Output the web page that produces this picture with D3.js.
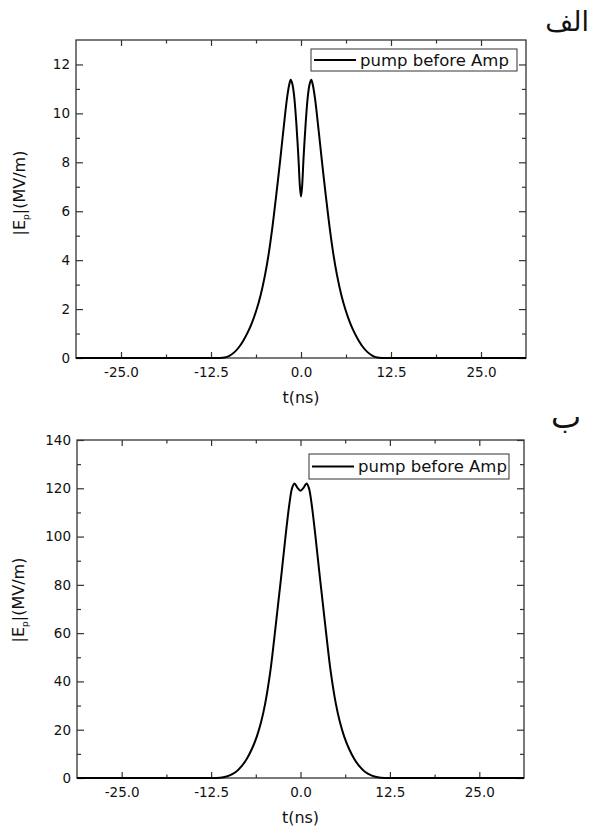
<!DOCTYPE html>
<html>
<head>
<meta charset="utf-8">
<script src="https://cdn.jsdelivr.net/npm/d3@7"></script>
<style>
  body { margin: 0; background: #fff; }
  svg { display: block; }
  text { font-family: "DejaVu Sans", sans-serif; fill: #111; }
</style>
</head>
<body>
<div id="chart"></div>
<script>
// x ticks shared by both panels
const xMajor = [-25, -12.5, 0, 12.5, 25];
const xMinor = [-18.75, -6.25, 6.25, 18.75];

// panel "الف" : pump before amplification (double peak)
const tTop = [-31.25, -14, -11.5, -10.6, -9.9, -9.2, -8.6, -8.0, -7.4, -6.8, -6.2, -5.6, -5.0, -4.5, -3.98, -3.47, -2.92, -2.45, -1.95, -1.65, -1.43, -1.2, -0.95, -0.65, -0.35, -0.15, 0,
              0.15, 0.35, 0.65, 0.95, 1.2, 1.43, 1.65, 1.95, 2.45, 2.92, 3.47, 3.98, 4.5, 5.0, 5.6, 6.2, 6.8, 7.4, 8.0, 8.6, 9.2, 9.9, 10.6, 11.5, 14, 31.25];
const eTop = [0, 0, 0, 0.02, 0.1, 0.25, 0.45, 0.72, 1.05, 1.45, 1.95, 2.58, 3.39, 4.24, 5.33, 6.58, 8.01, 9.3, 10.6, 11.15, 11.37, 11.2, 10.7, 9.6, 8.15, 7.0, 6.6,
              7.0, 8.15, 9.6, 10.7, 11.2, 11.37, 11.15, 10.6, 9.3, 8.01, 6.58, 5.33, 4.24, 3.39, 2.58, 1.95, 1.45, 1.05, 0.72, 0.45, 0.25, 0.1, 0.02, 0, 0, 0];
const yTopMajor = [0, 2, 4, 6, 8, 10, 12];
const yTopMinor = [1, 3, 5, 7, 9, 11];

// panel "ب"
const tBot = [-31.25, -14, -11.8, -10.8, -9.9, -9.0, -8.2, -7.5, -6.8, -6.1, -5.5, -4.94, -4.24, -3.68, -3.12, -2.6, -2.1, -1.54, -1.16, -0.84, -0.45, 0,
              0.45, 0.84, 1.16, 1.54, 2.1, 2.6, 3.12, 3.68, 4.24, 4.94, 5.5, 6.1, 6.8, 7.5, 8.2, 9.0, 9.9, 10.8, 11.8, 14, 31.25];
const eBot = [0, 0, 0, 0.3, 1.1, 2.6, 5.0, 8.0, 12.0, 17.25, 23.25, 30.8, 43.75, 57.5, 72.3, 86.1, 99.9, 113.8, 120.3, 122.0, 120.3, 119.0,
              120.3, 122.0, 120.3, 113.8, 99.9, 86.1, 72.3, 57.5, 43.75, 30.8, 23.25, 17.25, 12.0, 8.0, 5.0, 2.6, 1.1, 0.3, 0, 0, 0];
const yBotMajor = [0, 20, 40, 60, 80, 100, 120, 140];
const yBotMinor = [10, 30, 50, 70, 90, 110, 130];

const legendLabel = "pump before Amp";

const svg = d3.select("#chart").append("svg")
  .attr("width", 593)
  .attr("height", 827);

function panel(p) {
  const x = d3.scaleLinear().domain([-31.25, 31.25]).range([p.left, p.right]);
  const y = d3.scaleLinear().domain(p.yDomain).range([p.bottom, p.top]);
  const g = svg.append("g");

  const style = sel => {
    sel.select(".domain").remove();
    sel.selectAll("line").attr("stroke", "#333").attr("stroke-width", 1.2);
    sel.selectAll("text").attr("font-size", 13.5).attr("fill", "#111")
      .style("font-family", "'DejaVu Sans', sans-serif");
  };

  // bottom + top
  g.append("g").attr("transform", `translate(0,${p.bottom})`)
    .call(d3.axisBottom(x).tickValues(xMajor).tickSize(-6).tickPadding(9).tickFormat(d => d.toFixed(1)))
    .call(style);
  g.append("g").attr("transform", `translate(0,${p.bottom})`)
    .call(d3.axisBottom(x).tickValues(xMinor).tickSize(-3.5).tickFormat(""))
    .call(style);
  g.append("g").attr("transform", `translate(0,${p.top})`)
    .call(d3.axisTop(x).tickValues(xMajor).tickSize(-6).tickFormat(""))
    .call(style);
  g.append("g").attr("transform", `translate(0,${p.top})`)
    .call(d3.axisTop(x).tickValues(xMinor).tickSize(-3.5).tickFormat(""))
    .call(style);

  // left + right
  g.append("g").attr("transform", `translate(${p.left},0)`)
    .call(d3.axisLeft(y).tickValues(p.yMajor).tickSize(-7).tickPadding(6).tickFormat(d3.format("d")))
    .call(style);
  g.append("g").attr("transform", `translate(${p.left},0)`)
    .call(d3.axisLeft(y).tickValues(p.yMinor).tickSize(-4).tickFormat(""))
    .call(style);
  g.append("g").attr("transform", `translate(${p.right},0)`)
    .call(d3.axisRight(y).tickValues(p.yMajor).tickSize(-7).tickFormat(""))
    .call(style);
  g.append("g").attr("transform", `translate(${p.right},0)`)
    .call(d3.axisRight(y).tickValues(p.yMinor).tickSize(-4).tickFormat(""))
    .call(style);

  g.append("rect")
    .attr("x", p.left).attr("y", p.top)
    .attr("width", p.right - p.left).attr("height", p.bottom - p.top)
    .attr("fill", "none").attr("stroke", "#333").attr("stroke-width", 1.3);

  const line = d3.line()
    .x(d => x(d[0]))
    .y(d => y(d[1]))
    .curve(d3.curveCatmullRom.alpha(0.5));

  g.append("path")
    .datum(d3.zip(p.t, p.e))
    .attr("d", line)
    .attr("fill", "none")
    .attr("stroke", "#000")
    .attr("stroke-width", 2);

  // legend
  const lg = g.append("g").attr("transform", `translate(${p.legend[0]},${p.legend[1]})`);
  lg.append("rect").attr("width", p.legend[2]).attr("height", p.legend[3])
    .attr("fill", "#fff").attr("stroke", "#333").attr("stroke-width", 1);
  lg.append("line").attr("x1", 3).attr("x2", 45)
    .attr("y1", p.legend[3] / 2).attr("y2", p.legend[3] / 2)
    .attr("stroke", "#000").attr("stroke-width", 2);
  lg.append("text").attr("x", 49).attr("y", p.legend[3] / 2)
    .attr("dy", "0.35em").attr("font-size", 16.5).text(legendLabel);

  // axis titles
  g.append("text")
    .attr("x", (p.left + p.right) / 2).attr("y", p.bottom + 45)
    .attr("text-anchor", "middle").attr("font-size", 16)
    .text("t(ns)");

  const yt = g.append("text")
    .attr("transform", `translate(${p.yTitleX},${p.yTitleY}) rotate(-90)`)
    .attr("text-anchor", "middle").attr("font-size", 16);
  yt.append("tspan").text("|E");
  yt.append("tspan").attr("font-size", 9).attr("dy", 4).text("p");
  yt.append("tspan").attr("dy", -4).text("|(MV/m)");

  // panel tag
  g.append("text")
    .attr("x", p.tag[0]).attr("y", p.tag[1])
    .attr("text-anchor", "end")
    .attr("font-size", p.tagSize)
    .style("font-family", "'DejaVu Serif', 'DejaVu Sans', serif")
    .text(p.tagText);
}

panel({
  left: 76, right: 526, top: 40, bottom: 358,
  yDomain: [0, 13], yMajor: yTopMajor, yMinor: yTopMinor,
  t: tTop, e: eTop,
  legend: [311, 49, 206, 22],
  yTitleX: 25, yTitleY: 193,
  tag: [589, 31], tagSize: 27, tagText: "الف"
});

panel({
  left: 77, right: 524, top: 440, bottom: 778,
  yDomain: [0, 140], yMajor: yBotMajor, yMinor: yBotMinor,
  t: tBot, e: eBot,
  legend: [309, 454, 200, 25],
  yTitleX: 24, yTitleY: 600,
  tag: [581, 428], tagSize: 32, tagText: "ب"
});
</script>
</body>
</html>
